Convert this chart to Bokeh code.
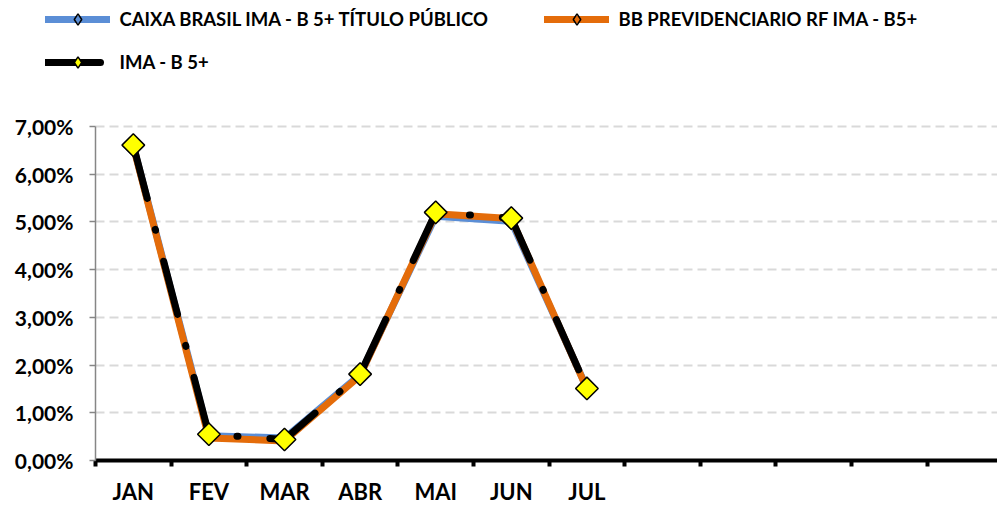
import math
from bokeh.plotting import figure
from bokeh.models import Range1d, FixedTicker, Legend, LegendItem, ColumnDataSource
from bokeh.embed import file_html
from bokeh.resources import INLINE

# ---- data ----
months = ["JAN", "FEV", "MAR", "ABR", "MAI", "JUN", "JUL"]
n_slots = 12
caixa = [6.60, 0.52, 0.47, 1.80, 5.12, 5.01, 1.52]
bb = [6.58, 0.47, 0.41, 1.78, 5.17, 5.07, 1.50]
ima = [6.61, 0.55, 0.44, 1.81, 5.20, 5.08, 1.51]
y_ticks = [0, 1, 2, 3, 4, 5, 6, 7]
y_tick_labels = ["0,00%", "1,00%", "2,00%", "3,00%", "4,00%", "5,00%", "6,00%", "7,00%"]
series_names = ["CAIXA BRASIL IMA - B 5+ TÍTULO PÚBLICO", "BB PREVIDENCIARIO RF IMA - B5+", "IMA - B 5+"]

FONT = "Lato"
W, H = 997, 505
ZERO_PX = 460               # pixel row of the 0,00% line
PLOT_LEFT_PX = 95           # where the value axis sits
SLOT_PX = 75.6              # width of one month slot
Y_TOP_PX = 126              # pixel row of the 7,00% line
y_max = y_ticks[-1]
unit_px = (ZERO_PX - Y_TOP_PX) / y_max
x_start = -PLOT_LEFT_PX / SLOT_PX
x_end = (W - PLOT_LEFT_PX) / SLOT_PX
y_start = -(H - ZERO_PX) / unit_px
y_end = ZERO_PX / unit_px

xs = [i + 0.5 for i in range(len(months))]
src = ColumnDataSource(dict(x=xs, caixa=caixa, bb=bb, ima=ima))

p = figure(width=W, height=H, output_backend="svg", toolbar_location=None,
           x_range=Range1d(x_start, x_end), y_range=Range1d(y_start, y_end),
           min_border_left=0, min_border_right=0, min_border_top=0, min_border_bottom=0)
p.outline_line_color = None

# grid
p.xgrid.visible = False
p.ygrid.ticker = FixedTicker(ticks=y_ticks)
p.ygrid.cross_bounds = (0, n_slots)
p.ygrid.grid_line_color = "#d9d9d9"
p.ygrid.grid_line_width = 2
p.ygrid.grid_line_dash = "9 5"

# y axis (pinned at x = 0)
p.yaxis.fixed_location = 0
p.yaxis.bounds = (0, y_max)
p.yaxis.ticker = FixedTicker(ticks=y_ticks)
p.yaxis.major_label_overrides = {t: l for t, l in zip(y_ticks, y_tick_labels)}
p.yaxis.axis_line_color = "#868686"
p.yaxis.axis_line_width = 1.5
p.yaxis.major_tick_line_color = "#868686"
p.yaxis.major_tick_line_width = 1.5
p.yaxis.major_tick_out = 6
p.yaxis.major_tick_in = 0
p.yaxis.minor_tick_line_color = None
p.yaxis.major_label_standoff = 16
p.yaxis.major_label_text_font = FONT
p.yaxis.major_label_text_font_style = "bold"
p.yaxis.major_label_text_font_size = "21px"
p.yaxis.major_label_text_color = "black"

# x axis (pinned at y = 0)
p.xaxis.fixed_location = 0
p.xaxis.bounds = (0, n_slots)
p.xaxis.ticker = FixedTicker(ticks=xs, minor_ticks=list(range(0, n_slots + 1)))
p.xaxis.major_label_overrides = {x: m for x, m in zip(xs, months)}
p.xaxis.axis_line_color = "black"
p.xaxis.axis_line_width = 4
p.xaxis.major_tick_out = 0
p.xaxis.major_tick_in = 0
p.xaxis.minor_tick_out = 6
p.xaxis.minor_tick_in = 0
p.xaxis.minor_tick_line_width = 4
p.xaxis.minor_tick_line_color = "black"
p.xaxis.major_label_standoff = 11
p.xaxis.major_label_text_font = FONT
p.xaxis.major_label_text_font_style = "bold"
p.xaxis.major_label_text_font_size = "22px"
p.xaxis.major_label_text_color = "black"

# series
small_marker = dict(marker="diamond", size=7, fill_alpha=0, line_color="black", line_width=1.5)
l_caixa = p.line("x", "caixa", source=src, line_color="#5B8ED6", line_width=7, line_join="round", line_cap="round")
m_caixa = p.scatter("x", "caixa", source=src, **small_marker)
l_bb = p.line("x", "bb", source=src, line_color="#E46C0A", line_width=7, line_join="round", line_cap="round")
m_bb = p.scatter("x", "bb", source=src, **small_marker)
l_ima = p.line("x", "ima", source=src, line_color="black", line_width=7, line_join="round",
               line_cap="round", line_dash="55 32 1 32")
m_ima = p.scatter("x", "ima", source=src, marker="square", angle=math.pi / 4, size=16,
                  fill_color="#FFFF00", line_color="black", line_width=1.5)

# legend-only marker for the IMA entry (legend markers are drawn unrotated)
nan_src = ColumnDataSource(dict(x=[float("nan")], y=[float("nan")]))
m_ima_leg = p.scatter("x", "y", source=nan_src, marker="diamond", size=7,
                      fill_color="#FFFF00", line_color="black", line_width=1.5)

GLYPH_H = 28

def make_legend(name, renderers, x, center_px):
    y = H - center_px - GLYPH_H / 2
    leg = Legend(items=[LegendItem(label=name, renderers=renderers)], location=(x, y),
                 orientation="horizontal", padding=0, margin=0, spacing=0,
                 glyph_width=65, glyph_height=GLYPH_H, label_standoff=10, label_height=GLYPH_H,
                 background_fill_alpha=0, border_line_alpha=0,
                 label_text_font=FONT, label_text_font_style="bold",
                 label_text_font_size="18.5px", label_text_color="black")
    p.add_layout(leg)

make_legend(series_names[0], [l_caixa, m_caixa], 44.5, 19)
make_legend(series_names[1], [l_bb, m_bb], 543.5, 19)
make_legend(series_names[2], [l_ima, m_ima_leg], 44.5, 62)

open("out.html", "w").write(file_html(p, INLINE))
